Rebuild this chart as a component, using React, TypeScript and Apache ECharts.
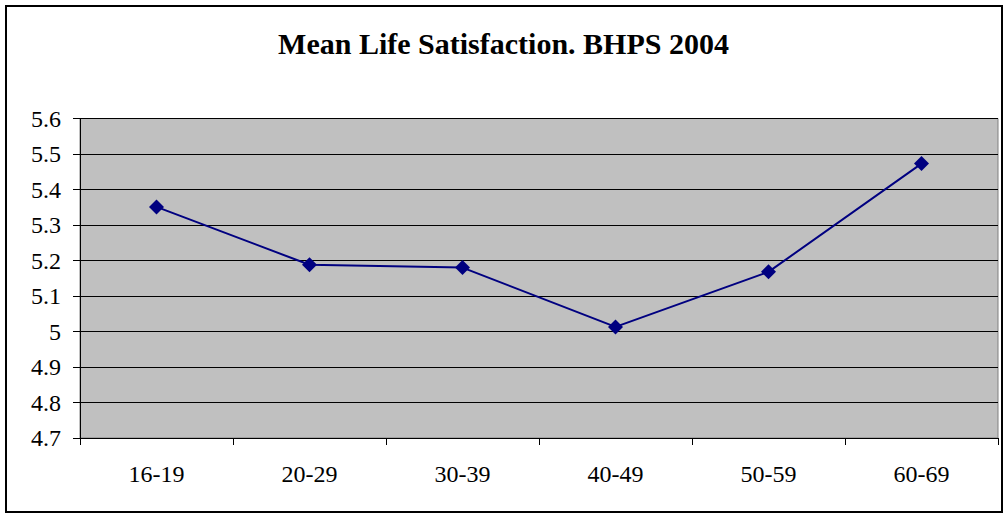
import React, { useEffect, useRef } from "react";
import * as echarts from "echarts";

const categories = ["16-19", "20-29", "30-39", "40-49", "50-59", "60-69"];
const values = [5.351, 5.188, 5.18, 5.013, 5.168, 5.473];
const titleText = "Mean Life Satisfaction. BHPS 2004";

export default function App() {
  const ref = useRef<HTMLDivElement>(null);
  useEffect(() => {
    const chart = echarts.init(ref.current!, undefined, { renderer: "svg" });
    const font = "'Liberation Serif', 'Times New Roman', serif";
    chart.setOption({
      animation: false,
      backgroundColor: "#ffffff",
      title: {
        text: titleText,
        left: "center",
        top: 23,
        textStyle: { fontFamily: font, fontSize: 30, fontWeight: "bold", color: "#000" },
      },
      graphic: [
        {
          type: "rect",
          shape: { x: 6, y: 6, width: 996, height: 506 },
          style: { fill: "none", stroke: "#000", lineWidth: 2 },
          silent: true,
          z: 100,
        },
      ],
      grid: {
        left: 80,
        top: 118.5,
        right: 9,
        bottom: 78,
        show: true,
        backgroundColor: "#c0c0c0",
        borderColor: "#808080",
        borderWidth: 1,
      },
      xAxis: {
        type: "category",
        data: categories,
        boundaryGap: true,
        axisLine: { lineStyle: { color: "#000", width: 1 } },
        axisTick: { show: true, length: 7, inside: false, lineStyle: { color: "#000" } },
        axisLabel: { fontFamily: font, fontSize: 24, color: "#000", margin: 24 },
        splitLine: { show: false },
      },
      yAxis: {
        type: "value",
        min: 4.7,
        max: 5.6,
        interval: 0.1,
        axisLine: { show: true, lineStyle: { color: "#000", width: 1 } },
        axisTick: { show: true, length: 7, lineStyle: { color: "#000" } },
        axisLabel: {
          fontFamily: font,
          fontSize: 24,
          color: "#000",
          margin: 19,
          formatter: (v: number) => String(Math.round(v * 10) / 10),
        },
        splitLine: { show: true, lineStyle: { color: "#000", width: 1 } },
      },
      series: [
        {
          type: "line",
          data: values,
          symbol: "diamond",
          symbolSize: 15,
          itemStyle: { color: "#000080" },
          lineStyle: { color: "#000080", width: 2 },
        },
      ],
    });
    return () => chart.dispose();
  }, []);
  return (
    <div
      ref={ref}
      style={{ position: "absolute", left: 0, top: 0, width: 1007, height: 516 }}
    />
  );
}
